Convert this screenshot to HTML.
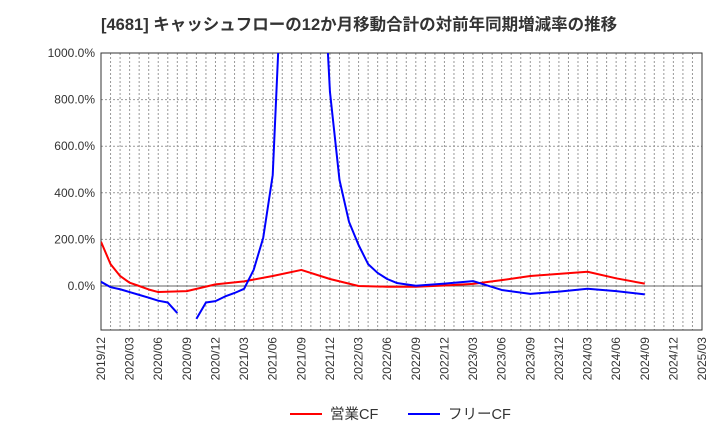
<!DOCTYPE html>
<html><head><meta charset="utf-8"><style>
body{margin:0;background:#fff;font-family:"Liberation Sans","Noto Sans CJK JP",sans-serif;}
</style></head><body>
<svg id="chart" width="720" height="440" xmlns="http://www.w3.org/2000/svg">
<text x="101" y="30" font-size="16.5" font-weight="bold" fill="#333" font-family="Liberation Sans, Noto Sans CJK JP, sans-serif">[4681]  キャッシュフローの12か月移動合計の対前年同期増減率の推移</text>
<defs><clipPath id="pc"><rect x="101" y="53" width="601" height="277"/></clipPath></defs>
<g id="grid"></g>
<g id="axes"></g>
<g id="series" clip-path="url(#pc)"></g>
<g>
<line x1="290" y1="414" x2="322" y2="414" stroke="#f00" stroke-width="2"/>
<text x="330" y="419" font-size="14.5" fill="#333">営業CF</text>
<line x1="408" y1="414" x2="440" y2="414" stroke="#00f" stroke-width="2"/>
<text x="448" y="419" font-size="14.5" fill="#333">フリーCF</text>
</g>
</svg>
<script>
const xLabels=["2019/12","2020/03","2020/06","2020/09","2020/12","2021/03","2021/06","2021/09","2021/12","2022/03","2022/06","2022/09","2022/12","2023/03","2023/06","2023/09","2023/12","2024/03","2024/06","2024/09","2024/12","2025/03"];
const yTicks=[0,200,400,600,800,1000];
const opIdx=[0,1,2,3,4,5,6,9,12,15,18,21,24,27,30,33,36,39,42,45,48,51,54,57];
const opVal=[190,94,43,14,0,-15,-26,-22,7,20,43,69,30,0,-3,-3,2,9,25,43,52,61,33,10];
const fcfIdx=[0,1,2,3,4,5,6,7,8,9,10,11,12,13,14,15,16,17,18,19,20,21,22,23,24,25,26,27,28,29,30,31,33,36,39,42,45,48,51,54,57];
const fcfVal=[18,-5,-14,-26,-38,-50,-63,-71,-116,null,-141,-71,-65,-45,-30,-12,69,206,476,1395,2000,2000,2000,1618,833,455,275,176,94,56,30,13,1,10,21,-17,-34,-24,-12,-22,-36];
const NS="http://www.w3.org/2000/svg";
const X0=101,X1=702,Y0=286,PPU=233/1000,MONTHS=63;
const xs=i=>X0+(X1-X0)*i/MONTHS;
const ys=v=>Y0-v*PPU;
function mk(t,a,p){const e=document.createElementNS(NS,t);for(const k in a)e.setAttribute(k,a[k]);p.appendChild(e);return e;}
const grid=document.getElementById('grid'),axes=document.getElementById('axes'),ser=document.getElementById('series');
for(let m=1;m<MONTHS;m++){const l=mk('line',{x1:xs(m),x2:xs(m),y1:53,y2:330,stroke:'#999','stroke-dasharray':'2,2','stroke-width':1},grid);

}
yTicks.forEach(v=>{const l=mk('line',{x1:X0,x2:X1,y1:ys(v),y2:ys(v),stroke:v===0?'#666':'#999','stroke-dasharray':v===0?'':'2,2','stroke-width':1},grid);


const t=mk('text',{x:95,y:ys(v)+4,'text-anchor':'end','font-size':12,fill:'#333'},axes);t.textContent=v.toFixed(1)+'%';

});
xLabels.forEach((s,i)=>{const x=xs(i*3);const t=mk('text',{x:x+4,y:337,'text-anchor':'end','font-size':12,fill:'#333',transform:`rotate(-90 ${x+4} 337)`},axes);t.textContent=s;

});
const fr=mk('rect',{x:X0,y:53,width:X1-X0,height:277,fill:'none',stroke:'#333','stroke-width':1},axes);


function draw(idx,val,col,name){let segs=[],cur=[];idx.forEach((m,k)=>{if(val[k]==null){if(cur.length)segs.push(cur);cur=[];}else cur.push(xs(m)+','+ys(val[k]));});if(cur.length)segs.push(cur);
segs.forEach(s=>{const p=mk('polyline',{points:s.join(' '),fill:'none',stroke:col,'stroke-width':2,'stroke-linejoin':'round'},ser);

});}
draw(opIdx,opVal,'#f00','operating-cf-line');
draw(fcfIdx,fcfVal,'#00f','free-cf-line');
</script>
</body></html>
